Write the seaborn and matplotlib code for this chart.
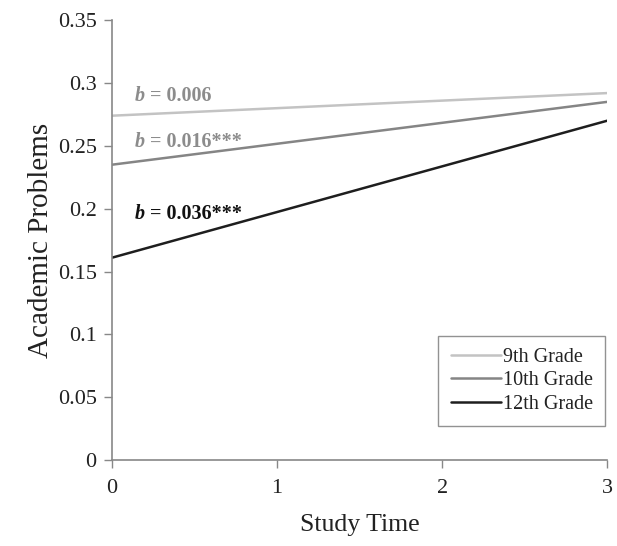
import numpy as np
import pandas as pd
import seaborn as sns
import matplotlib.pyplot as plt

sns.set_theme(style="white")
plt.rcParams['font.family'] = ['Liberation Serif', 'DejaVu Serif']

study_time = [0, 3]
grades = ["9th Grade", "10th Grade", "12th Grade"]
grade9 = [0.274, 0.292]
grade10 = [0.235, 0.285]
grade12 = [0.161, 0.270]
slopes = ["0.006", "0.016***", "0.036***"]
label_y = [0.290, 0.253, 0.196]

line_colors = ["#c3c3c3", "#858585", "#1e1e1e"]
text_colors = ["#8c8c8c", "#8c8c8c", "#111111"]

df = pd.DataFrame({
    "Study Time": study_time * 3,
    "Academic Problems": grade9 + grade10 + grade12,
    "grade": [g for g in grades for _ in study_time],
})

fig = plt.figure(figsize=(6.17, 5.46), dpi=100)
ax = fig.add_axes([0.1815, 0.1575, 0.8025, 0.8055])

sns.lineplot(data=df, x="Study Time", y="Academic Problems", hue="grade",
             palette=line_colors, linewidth=1.8, ax=ax, legend=True)

ax.set_xlim(0, 3)
ax.set_ylim(0, 0.35)
ax.set_xticks([0, 1, 2, 3])
ax.set_yticks(np.arange(0, 0.351, 0.05))
ax.set_yticklabels(["0", "0.05", "0.1", "0.15", "0.2", "0.25", "0.3", "0.35"])
ax.set_xticklabels(["0", "1", "2", "3"])
ax.tick_params(axis="both", labelsize=16, colors="#222222", length=6,
               width=1, direction="out", color="#888888",
               bottom=True, left=True)
ax.tick_params(axis="x", pad=8)
ax.tick_params(axis="y", pad=5)

for side in ["top", "right"]:
    ax.spines[side].set_visible(False)
for side in ["left", "bottom"]:
    ax.spines[side].set_color("#888888")
    ax.spines[side].set_linewidth(1.2)

ax.set_xlabel("Study Time", fontsize=18.5, color="#222222", labelpad=11)
ax.set_ylabel("Academic Problems", fontsize=21, color="#222222", labelpad=3)

# slope labels: italic "b" followed by the rest in bold
for s, yy, c in zip(slopes, label_y, text_colors):
    tb = ax.text(0.14, yy, "b", fontsize=14.5, fontweight="bold",
                 fontstyle="italic", color=c, va="center", ha="left")
    ax.annotate(" = " + s, xy=(1, 0.5), xycoords=tb, fontsize=14.5,
                fontweight="bold", color=c, va="center", ha="left")

leg = ax.legend(loc="lower right", bbox_to_anchor=(0.996, 0.078), fontsize=14.5,
                frameon=True, fancybox=False, edgecolor="#777777",
                handlelength=2.5, handletextpad=0.1, labelspacing=0.2,
                borderpad=0.6, borderaxespad=0)
leg.get_frame().set_linewidth(1.0)
for t in leg.get_texts():
    t.set_color("#222222")

fig.savefig("out.png", dpi=100)
